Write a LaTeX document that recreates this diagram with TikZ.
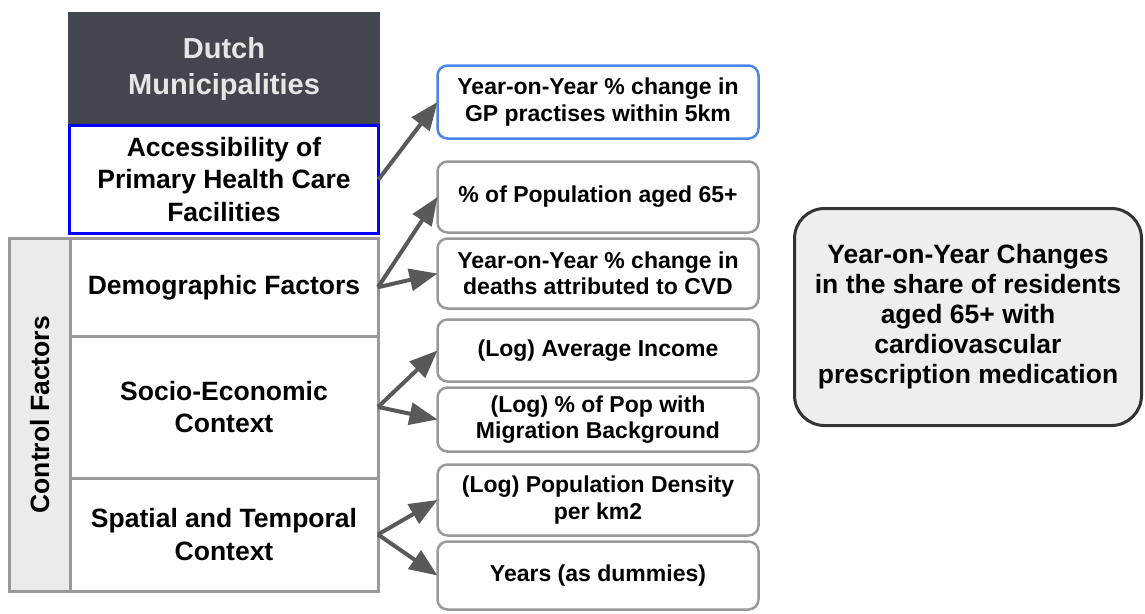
\documentclass[tikz,border=0pt]{standalone}
\usepackage{fontspec}
\setmainfont{Liberation Sans}
\usetikzlibrary{arrows.meta,positioning}
\definecolor{headfill}{HTML}{43464F}
\definecolor{headtext}{HTML}{E6E6E6}
\definecolor{boxgray}{HTML}{999999}
\definecolor{colgray}{HTML}{EBEBEB}
\definecolor{gpblue}{HTML}{4A86E8}
\definecolor{arrowgray}{HTML}{595959}
\definecolor{outfill}{HTML}{EEEEEE}
\definecolor{outline}{HTML}{333333}

\begin{document}
\begin{tikzpicture}[x=1pt,y=-1pt,
        every node/.style={align=center,inner sep=2pt,outer sep=0pt},
        muni/.style={fill=headfill,text=headtext,minimum width=312pt,minimum height=113pt,
          text depth=6pt,font=\bfseries\fontsize{29}{36}\selectfont},
        factor/.style={draw=boxgray,line width=3pt,fill=white,minimum width=308pt,
          font=\bfseries\fontsize{26.5}{32.5}\selectfont},
        access/.style={factor,draw=blue,minimum width=309pt},
        ctrl/.style={draw=boxgray,line width=3pt,fill=colgray,rotate=90,minimum width=352.5pt,
          minimum height=60.5pt,font=\bfseries\fontsize{26.5}{32}\selectfont},
        var/.style={draw=boxgray,line width=2.5pt,fill=white,rounded corners=10pt,
          minimum width=321pt,font=\bfseries\fontsize{23}{26.5}\selectfont},
        outcome/.style={draw=outline,line width=3pt,fill=outfill,rounded corners=30pt,
          minimum width=347pt,minimum height=217pt,font=\bfseries\fontsize{26.5}{30}\selectfont},
        link/.style={arrowgray,line width=4pt,-{Triangle[length=28pt,width=22pt]}}]
        \useasboundingbox (0,0) rectangle (1145,613);

        % left column
        \node[muni]  (muni) at (224,68.5) {Dutch\\Municipalities};
        \node[access,minimum height=108pt] (acc) at (224,179.5) {Accessibility of\\Primary Health Care\\Facilities};
        \node[factor,minimum height=97.5pt,anchor=north west] (demo) at (70,238.5) {Demographic Factors};
        \node[factor,minimum height=142pt] (socio) [below=0pt of demo] {Socio-Economic\\Context};
        \node[factor,minimum height=113pt] (spat) [below=0pt of socio] {Spatial and Temporal\\Context};
        \node[ctrl]  (ctrl) at (39.75,414.75) {Control Factors};

        % variables
        \node[var,draw=gpblue,minimum height=73pt] (gp) at (598,102) {Year-on-Year \% change in\\GP practises within 5km};
        \node[var,minimum height=71pt] (age) at (598,197) {\% of Population aged 65+};
        \node[var,minimum height=70pt] (cvd) [below=6pt of age] {Year-on-Year \% change in\\deaths attributed to CVD};
        \node[var,minimum height=62pt] (inc) at (598,350.5) {(Log) Average Income};
        \node[var,minimum height=64pt] (mig) [below=6pt of inc] {(Log) \% of Pop with\\Migration Background};
        \node[var,minimum height=71pt] (dens) at (598,500) {(Log) Population Density\\per km2};
        \node[var,minimum height=68pt] (yrs) [below=6pt of dens] {Years (as dummies)};

        % outcome
        \node[outcome] (out) at (968,317) {Year-on-Year Changes\\in the share of residents\\aged 65+ with\\cardiovascular\\prescription medication};

        \path[link]
          (acc.east) edge (gp.west)
          (demo.east) edge (age.west)
          (demo.east) edge (cvd.west)
          (socio.east) edge (inc.west)
          (socio.east) edge (mig.west)
          (spat.east) edge (dens.west)
          (spat.east) edge (yrs.west)
          ;
      \end{tikzpicture}
\end{document}
